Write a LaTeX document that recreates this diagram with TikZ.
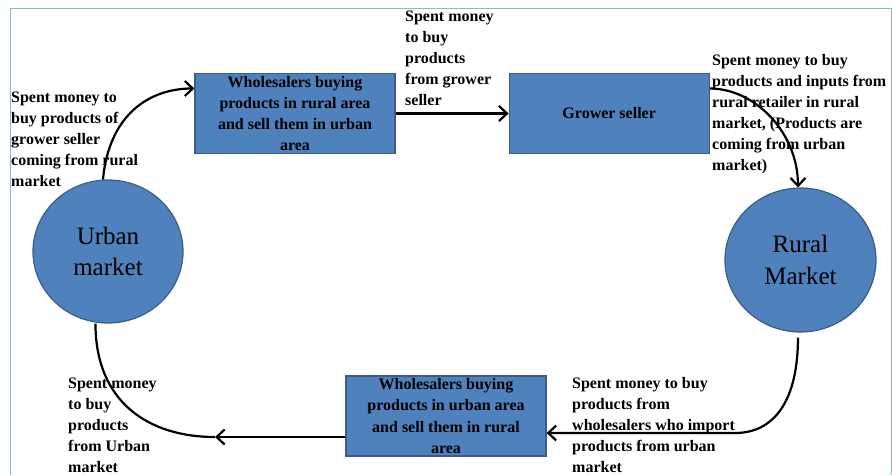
\documentclass[tikz,border=0pt]{standalone}
\usepackage{fontspec}
\setmainfont{Liberation Serif}
\usepackage{xcolor}
\usetikzlibrary{positioning, arrows.meta, shapes.geometric}
\definecolor{boxblue}{HTML}{4F81BD}
\definecolor{boxedge}{HTML}{385D8A}
\definecolor{frameblue}{HTML}{8EB4E3}

\begin{document}
\begin{tikzpicture}[x=1pt, y=-1pt,
  flowbox/.style={rectangle, fill=boxblue, draw=boxedge, line width=1.2pt,
    minimum width=200pt, minimum height=80pt, inner xsep=3pt, inner ysep=0pt,
    align=center, font=\bfseries\fontsize{16}{21.3}\selectfont},
  market/.style={ellipse, fill=boxblue, draw=boxedge, line width=1.2pt,
    align=center, font=\fontsize{25}{31.5}\selectfont},
  note/.style={anchor=base west, inner sep=0pt, align=left,
    font=\bfseries\fontsize{16}{21}\selectfont},
  flow/.style={line width=2.2pt, -{Straight Barb[length=8pt, width=15pt]}},
  flowline/.style={line width=2.2pt}]
  \useasboundingbox (0,0) rectangle (892,475);
  \draw[frameblue, line width=0.8pt] (10,475) -- (10,8) -- (891,8) -- (891,475);

  % markets
  \node[market, minimum width=150pt, minimum height=143pt] (urban) at (108,251.5) {Urban\\market};
  \node[market, minimum width=151pt, minimum height=144pt] (rural) at (800.5,260) {Rural\\Market};

  % wholesalers and grower
  \node[flowbox] (whol1) at (295,113.5) {Wholesalers buying\\products in rural area\\and sell them in urban\\area};
  \node[flowbox, right=113pt of whol1] (grower) {Grower seller};
  \node[flowbox] (whol2) at (446,416) {Wholesalers buying\\products in urban area\\and sell them in rural\\area};

  % money notes (placed at baseline of last line)
  \node[note] (buyrural) at (11,186) {Spent money to\\buy products of\\grower seller\\coming from rural\\market};
  \node[note] (buygrower) at (405,105) {Spent money\\to buy\\products\\from grower\\seller};
  \node[note] (buyinputs) at (712,170) {Spent money to buy\\products and inputs from\\rural retailer in rural\\market, (Products are\\coming from urban\\market)};
  \node[note] (buywhol) at (572,472) {Spent money to buy\\products from\\wholesalers who import\\products from urban\\market};
  \node[note] (buyurban) at (68,472) {Spent money\\to buy\\products\\from Urban\\market};

  % flows
  \coordinate (rjoin) at (735,433);
  \coordinate (ljoin) at (215,437);
  \draw[flow] (urban.94) .. controls +(6,-65) and +(-45,0) .. ([yshift=25pt]whol1.west);
  \draw[flow] (whol1) -- (grower);
  \draw[flow] ([yshift=25pt]grower.east) .. controls +(45,0) and +(0,-55) .. (rural.92);
  \draw[flow] ([yshift=-5pt]rural.268) .. controls +(0,62) and +(40,0) .. (rjoin) -- (rjoin -| whol2.east);
  \draw[flow] (ljoin -| whol2.west) -- (ljoin);
  \draw[flowline] (ljoin) .. controls +(-67,0) and +(0,78) .. ([yshift=-1pt]urban.260);
\end{tikzpicture}
\end{document}
